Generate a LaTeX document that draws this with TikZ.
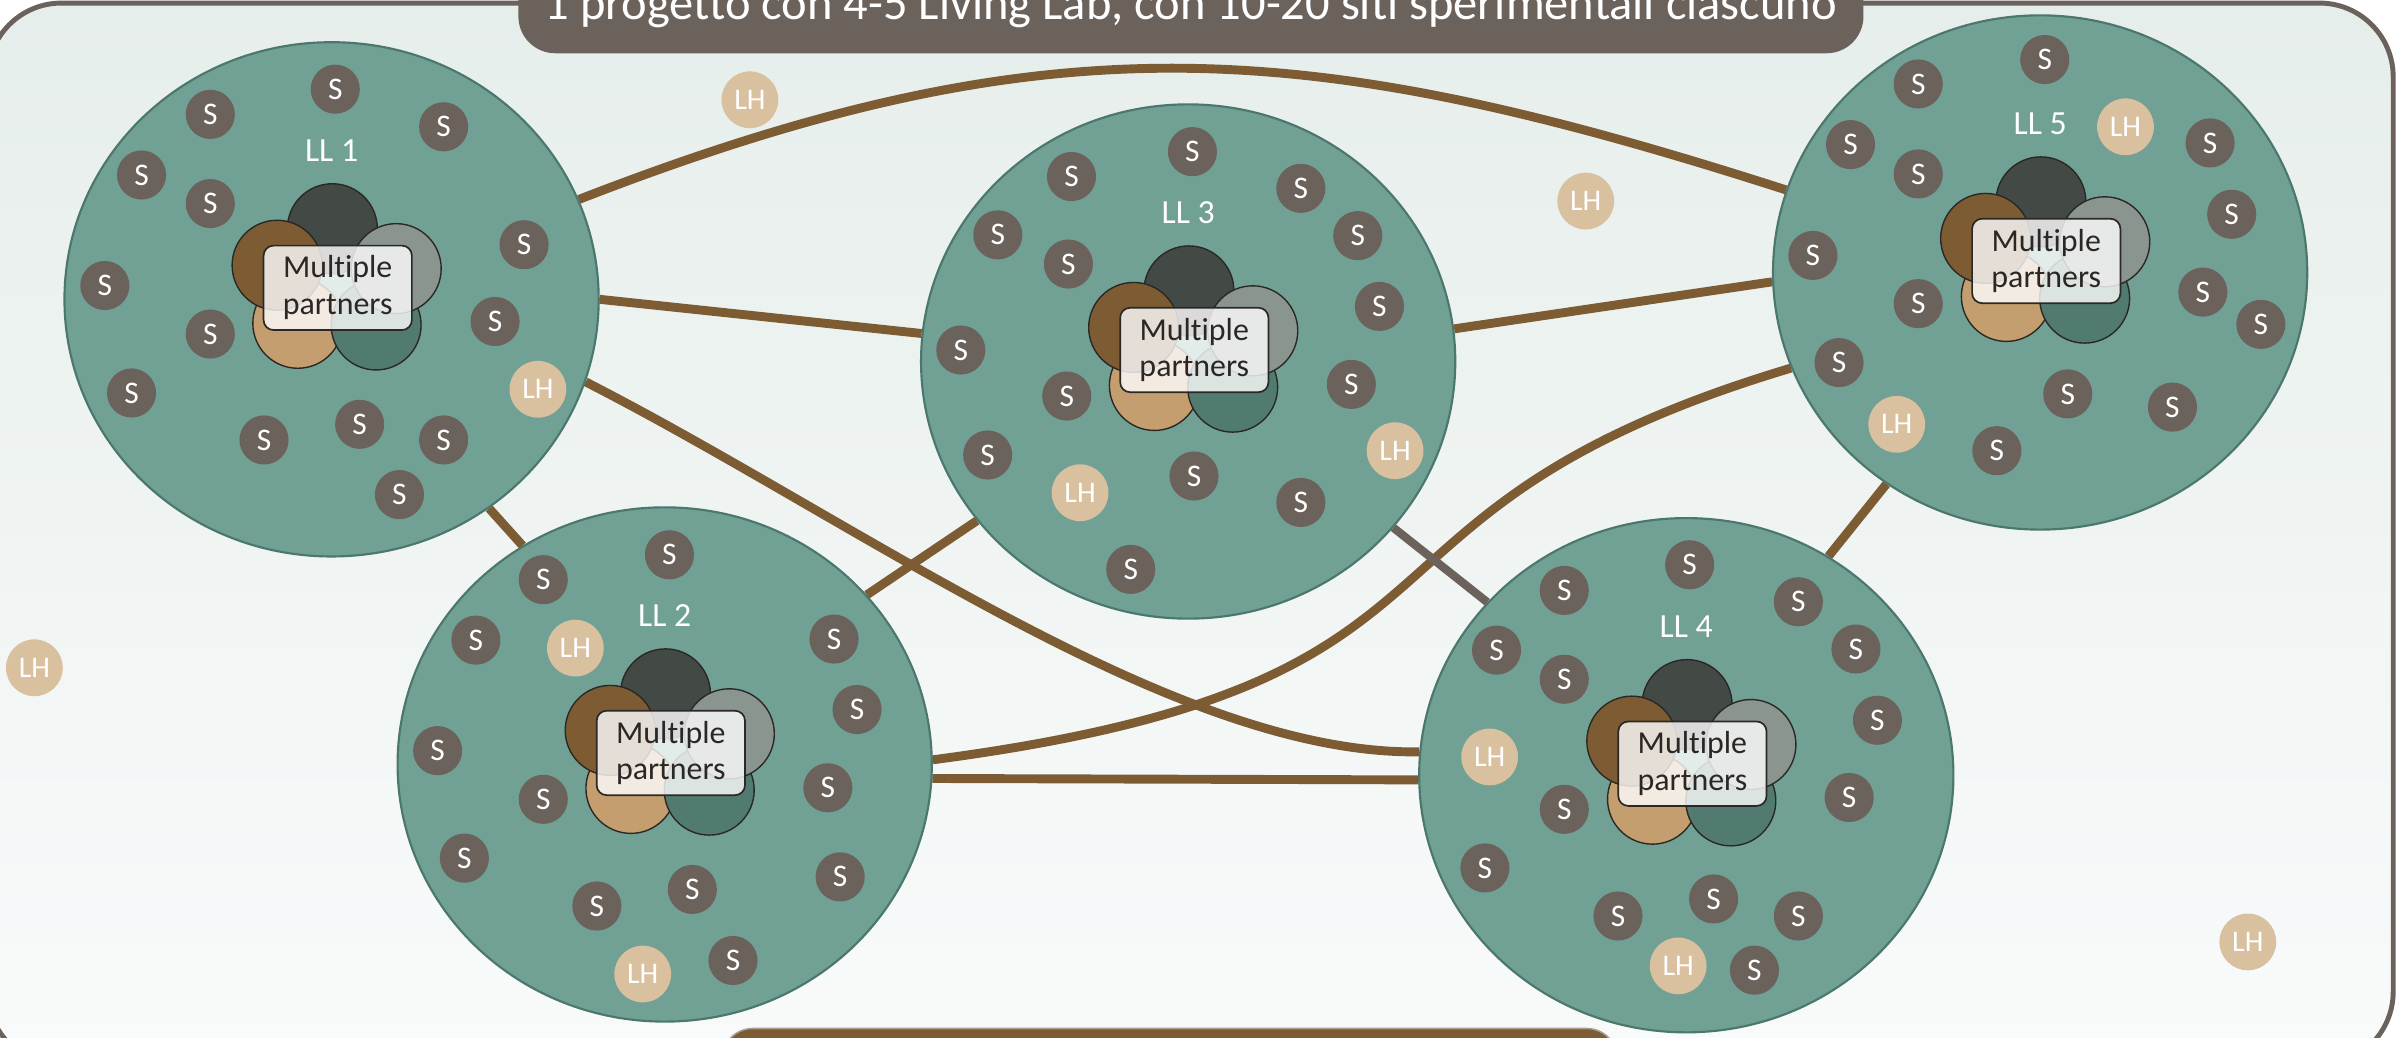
\documentclass[tikz,border=0pt]{standalone}
\usepackage{fontspec}
\setmainfont{Carlito}[Ligatures=NoCommon]
\usetikzlibrary{shapes.geometric}

\definecolor{frameline}{HTML}{6B625C}
\definecolor{bgtop}{HTML}{E6EEEB}
\definecolor{bgbottom}{HTML}{F9FBFB}
\definecolor{llfill}{HTML}{71A095}
\definecolor{llline}{HTML}{4B776D}
\definecolor{sitecol}{HTML}{6B625C}
\definecolor{hubcol}{HTML}{D9C09F}
\definecolor{linkbrown}{HTML}{7D5C34}
\definecolor{petaldark}{HTML}{434A45}
\definecolor{petalbrown}{HTML}{7D5C34}
\definecolor{petalgray}{HTML}{8B9590}
\definecolor{petaltan}{HTML}{C49E6E}
\definecolor{petalteal}{HTML}{517A70}
\definecolor{inkdark}{HTML}{2A2724}
\definecolor{baredge}{HTML}{A79D93}

\pgfdeclarelayer{back}
\pgfdeclarelayer{links}
\pgfsetlayers{back,links,main}

\begin{document}
\begin{tikzpicture}[x=1pt,y=-1pt,
  llcircle/.style={ellipse, fill=llfill, draw=llline, line width=1.4pt,
    minimum width=348pt, minimum height=335pt, inner sep=0pt},
  site/.style={circle, fill=sitecol, minimum size=32pt, inner sep=0pt,
    text=white, font=\fontsize{20.5}{21}\selectfont},
  hub/.style={circle, fill=hubcol, minimum size=37pt, inner sep=0pt,
    text=white, font=\fontsize{19.5}{20}\selectfont},
  petal/.style={circle, draw=inkdark, line width=0.9pt, minimum size=58.6pt, inner sep=0pt},
  partners/.style={rectangle, rounded corners=6.5pt, fill=white, fill opacity=0.8,
    text opacity=1, draw opacity=1, draw=inkdark, line width=1.1pt,
    minimum width=96.6pt, minimum height=55pt, inner sep=0pt, align=center,
    text=inkdark, font=\fontsize{20.8}{23.9}\selectfont},
  lllabel/.style={text=white, inner sep=0pt, font=\fontsize{22}{24}\selectfont},
  link/.style={draw=linkbrown, line width=5.8pt},
  greylink/.style={draw=frameline, line width=5.4pt},
]
\useasboundingbox (0,0) rectangle (1568,676);

% frame, title bar and bottom bar
\begin{pgfonlayer}{back}
  \fill[white] (0,0) rectangle (1568,676);
  \draw[draw=frameline, line width=3.2pt, rounded corners=48pt,
        top color=bgtop, bottom color=bgbottom] (-8,2) rectangle (1559,694);
  \node[fill=frameline, rounded corners=24pt, minimum width=876.2pt,
        minimum height=74.7pt, inner sep=0pt] (titlebar) at (775.8,-2.65) {};
  \node[fill=linkbrown, draw=baredge, line width=1pt, rounded corners=20pt,
        minimum width=583.2pt, minimum height=50pt, inner sep=0pt] (bottombar) at (762,695) {};
\end{pgfonlayer}

\node[anchor=base, text=white, inner sep=0pt, font=\fontsize{31.6}{37}\selectfont]
  (titletext) at (775.8,12.5) {1 progetto con 4-5 Living Lab, con 10-20 siti sperimentali ciascuno};

% the five living labs
\foreach \n/\cx/\cy in {1/216/195, 2/433/498, 3/774/235.5, 4/1098.5/505, 5/1329/177.5} {
  \node[llcircle] (LL\n) at (\cx,\cy) {};
  \begin{scope}[shift={(\cx,\cy)}]
    \node[petal, fill=petaldark]  (petal\n-a) at (0.5,-46) {};
    \node[petal, fill=petaltan]   (petal\n-b) at (-22,15.6) {};
    \node[petal, fill=petalteal]  (petal\n-c) at (29,16.7) {};
    \node[petal, fill=petalbrown] (petal\n-d) at (-35.5,-22.2) {};
    \node[petal, fill=petalgray]  (petal\n-e) at (42.1,-20) {};
    \node[partners] (mp\n) at (4,-7.5) {Multiple\\partners};
    \node[lllabel] (lab\n) at (0,-97) {LL \n};
  \end{scope}
}

% experimental sites
\foreach \px/\py [count=\k] in {218.4/58.1, 137/74.5, 289/82.6, 92.2/114, 137/132.6,
    341.4/159.4, 68.3/186, 137/217.6, 322.5/209.4, 85.7/256, 172/286.6, 234.3/276.4,
    289/286.6, 260.2/322.2}
  \node[site] (sa\k) at (\px,\py) {S};
\foreach \px/\py [count=\k] in {436.1/361.4, 353.9/377.6, 310/417, 543.3/416.3,
    558.3/462.2, 285.1/489, 353.9/520.7, 539.3/513.2, 302.5/559, 547.3/571.2,
    451/579.4, 388.8/590.2, 477.5/625.7}
  \node[site] (sb\k) at (\px,\py) {S};
\foreach \px/\py [count=\k] in {776.8/98.8, 698/115, 847.4/122.7, 650/153, 884.5/153.5,
    696/172, 898.6/199.6, 625.9/228, 880.3/250.4, 694.9/258, 643.4/296.4, 777.8/310.1,
    847.4/327.3, 736.6/370.9}
  \node[site] (sc\k) at (\px,\py) {S};
\foreach \px/\py [count=\k] in {1100.7/367.9, 1019/384.6, 1171.5/392, 974.9/423.5,
    1209/422.8, 1019/442.5, 1223/469.2, 1019/527.2, 1204.6/519.5, 967.3/565.4,
    1116.3/585.6, 1054/596.7, 1171.5/596.7, 1142.9/632}
  \node[site] (sd\k) at (\px,\py) {S};
\foreach \px/\py [count=\k] in {1332/38.8, 1249.6/54.7, 1205.5/94.2, 1439.7/93.1,
    1249.6/113.3, 1453.8/139.6, 1181/166.4, 1249.6/197.8, 1435/190.3, 1472.8/211.3,
    1198/236.2, 1347/256.6, 1415.2/265.2, 1300.8/293.6}
  \node[site] (se\k) at (\px,\py) {S};

% living hubs
\foreach \px/\py [count=\k] in {350.4/253.6, 374.8/422.2, 418.7/634.5, 908.8/293.6,
    703.6/321, 970.4/493.1, 1093.2/629.2, 1384.6/82.6, 1235.6/276.4,
    488.5/65, 1033/131, 22.4/435, 1464.3/613.6}
  \node[hub] (lh\k) at (\px,\py) {LH};

% links between the living labs
\begin{pgfonlayer}{links}
  \draw[link] (LL1.22.7) .. controls (686,10) and (853,24) .. (LL5.162.8);
  \draw[link] (LL1.0) -- (LL3.174);
  \draw[link] (LL3.7.8) -- (LL5.182.7);
  \draw[link] (LL1.342.2) .. controls (560,340) and (765,492) .. (LL4.175.8);
  \draw[link] (LL2.1.3) .. controls (988,445) and (852,334) .. (LL5.201.8);
  \draw[link] (LL2.357.3) -- (LL4.181.6);
  \draw[link] (LL1.307.8) -- (LL2.123.2);
  \draw[link] (LL2.40) -- (LL3.217.6);
  \draw[greylink] (LL3.321.2) -- (LL4.139.2);
  \draw[link] (LL5.234.9) -- (LL4.57.7);
\end{pgfonlayer}
\end{tikzpicture}
\end{document}
